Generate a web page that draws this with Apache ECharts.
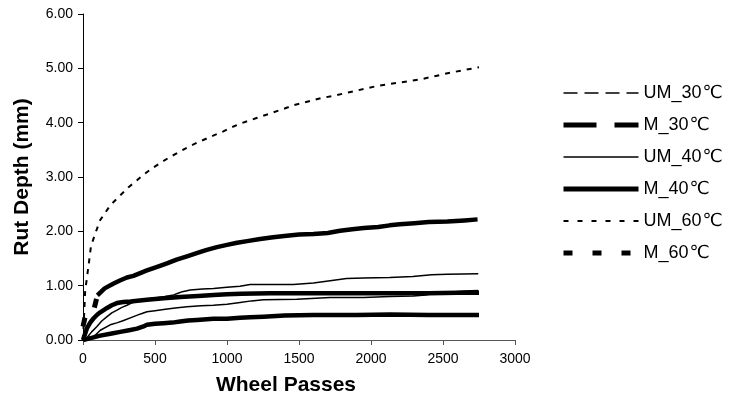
<!DOCTYPE html>
<html>
<head>
<meta charset="utf-8">
<script src="https://cdn.jsdelivr.net/npm/echarts@6/dist/echarts.min.js"></script>
<style>
  html, body { margin: 0; padding: 0; background: #fff; }
  #chart { width: 730px; height: 397px; }
</style>
</head>
<body>
<div id="chart"></div>
<script>
// Rut depth (mm) against wheel passes, [passes, depth] pairs per mix
const seriesNames = ['UM_30℃', 'M_30℃', 'UM_40℃', 'M_40℃', 'UM_60℃', 'M_60℃'];

const um30 = [[0,0],[50,0.03],[90,0.1],[120,0.18],[189,0.28],[240,0.32],[282,0.36],[351,0.43],[400,0.48],[444,0.52],[500,0.54],[559,0.56],[640,0.59],[722,0.61],[820,0.63],[906,0.64],[1000,0.66],[1091,0.69],[1170,0.72],[1253,0.74],[1485,0.75],[1716,0.78],[1947,0.78],[2132,0.8],[2294,0.81],[2380,0.83],[2433,0.86],[2550,0.88],[2650,0.9],[2745,0.91]];

const m30 = [[0,0],[60,0.04],[120,0.08],[200,0.12],[259,0.15],[320,0.18],[375,0.21],[420,0.25],[444,0.28],[500,0.3],[559,0.31],[620,0.32],[675,0.34],[730,0.36],[791,0.37],[906,0.39],[1000,0.39],[1091,0.41],[1160,0.42],[1253,0.43],[1400,0.45],[1600,0.46],[1900,0.46],[2132,0.47],[2400,0.46],[2750,0.46]];

const um40 = [[0,0],[30,0.05],[60,0.15],[97,0.25],[130,0.35],[167,0.43],[200,0.5],[236,0.55],[270,0.6],[305,0.64],[350,0.7],[400,0.74],[460,0.76],[513,0.78],[570,0.8],[630,0.83],[660,0.86],[690,0.89],[745,0.92],[830,0.94],[906,0.95],[1000,0.97],[1090,0.99],[1160,1.02],[1300,1.02],[1460,1.02],[1600,1.05],[1716,1.09],[1830,1.13],[1950,1.14],[2130,1.15],[2290,1.17],[2420,1.2],[2530,1.21],[2745,1.22]];

const m40 = [[0,0],[28,0.22],[50,0.32],[74,0.4],[100,0.47],[120,0.51],[167,0.59],[200,0.64],[236,0.68],[280,0.7],[330,0.71],[444,0.74],[560,0.77],[675,0.79],[800,0.81],[906,0.83],[1000,0.84],[1100,0.85],[1300,0.86],[1500,0.86],[1800,0.86],[2100,0.86],[2400,0.86],[2600,0.87],[2750,0.87]];

const um60 = [[0,0],[15,0.9],[40,1.4],[55,1.72],[85,1.96],[120,2.21],[190,2.48],[250,2.64],[316,2.81],[375,2.94],[420,3.04],[480,3.16],[550,3.28],[605,3.37],[675,3.47],[735,3.56],[790,3.63],[860,3.71],[920,3.78],[975,3.84],[1045,3.93],[1100,3.99],[1200,4.08],[1300,4.17],[1400,4.26],[1460,4.32],[1550,4.38],[1650,4.45],[1750,4.5],[1850,4.56],[1950,4.62],[2050,4.68],[2150,4.72],[2250,4.76],[2350,4.8],[2450,4.86],[2550,4.92],[2650,4.97],[2750,5.02]];

// first readings of M_60 (sparse, so the dash pattern shows) and the dense remainder
const m60Start = [[0,0.25],[25,0.55],[70,0.5],[100,0.82]];
const m60 = [[100,0.82],[150,0.95],[213,1.04],[260,1.1],[305,1.15],[350,1.18],[444,1.28],[520,1.35],[583,1.41],[650,1.48],[722,1.54],[800,1.61],[860,1.66],[930,1.71],[1000,1.75],[1070,1.79],[1140,1.82],[1230,1.86],[1320,1.89],[1415,1.92],[1500,1.94],[1600,1.95],[1700,1.97],[1785,2.01],[1870,2.04],[1950,2.06],[2050,2.08],[2130,2.11],[2200,2.13],[2300,2.15],[2400,2.17],[2530,2.18],[2650,2.2],[2740,2.22]];

const xTicks = { min: 0, max: 3000, step: 500 };
const yTicks = { min: 0, max: 6, step: 1 };

const FONT = '"Liberation Sans", Arial, "Noto Sans CJK SC", sans-serif';

// line styles as shown in the legend
const legendStyles = [
  { type: [14, 7], width: 1.5 },
  { type: [33, 18], width: 5 },
  { type: 'solid', width: 1.5 },
  { type: 'solid', width: 5 },
  { type: [5, 9], width: 2 },
  { type: [9, 20], width: 5 }
];

function lineSeries(name, data, lineStyle) {
  return {
    name: name,
    type: 'line',
    data: data,
    showSymbol: false,
    symbol: 'none',
    silent: true,
    animation: false,
    lineStyle: Object.assign({ color: '#000', cap: 'butt', join: 'round' }, lineStyle)
  };
}

const chart = echarts.init(document.getElementById('chart'), null, { renderer: 'canvas' });

chart.setOption({
  backgroundColor: '#fff',
  animation: false,
  color: ['#000'],
  grid: { left: 83, right: 215, top: 14, bottom: 57, outerBoundsMode: 'none', containLabel: false },
  legend: {
    orient: 'vertical',
    left: 556,
    top: 79,
    itemWidth: 75,
    itemHeight: 14,
    itemGap: 14,
    selectedMode: false,
    formatter: name => name.replace('℃', '{deg|℃}'),
    textStyle: {
      color: '#000', fontSize: 18, fontFamily: FONT,
      rich: { deg: { fontSize: 18, fontFamily: '"DejaVu Sans", sans-serif', padding: [0, 0, 0, 1] } }
    },
    data: seriesNames.map((n, i) => ({
      name: n,
      itemStyle: { color: 'rgba(0,0,0,0)', borderWidth: 0, opacity: 0 },
      lineStyle: Object.assign({ color: '#000', cap: 'butt' }, legendStyles[i])
    }))
  },
  xAxis: {
    type: 'value',
    min: xTicks.min,
    max: xTicks.max,
    interval: xTicks.step,
    name: 'Wheel Passes',
    nameLocation: 'middle',
    nameGap: 35,
    nameTextStyle: { color: '#000', fontSize: 21, fontWeight: 'bold', fontFamily: FONT, padding: [0, 26, 0, 0] },
    axisLine: { lineStyle: { color: '#555', width: 1 } },
    axisTick: { show: true, length: 5, lineStyle: { color: '#555' } },
    axisLabel: { color: '#000', fontSize: 14, fontFamily: FONT, margin: 12, formatter: v => String(v) },
    splitLine: { show: false }
  },
  yAxis: {
    type: 'value',
    min: yTicks.min,
    max: yTicks.max,
    interval: yTicks.step,
    name: 'Rut Depth (mm)',
    nameLocation: 'middle',
    nameGap: 50,
    nameTextStyle: { color: '#000', fontSize: 21, fontWeight: 'bold', fontFamily: FONT },
    axisLine: { show: true, lineStyle: { color: '#000', width: 1 } },
    axisTick: { show: true, length: 5, lineStyle: { color: '#000' } },
    axisLabel: { color: '#000', fontSize: 14, fontFamily: FONT, margin: 10, formatter: v => v.toFixed(2) },
    splitLine: { show: false }
  },
  series: [
    lineSeries(seriesNames[0], um30, { width: 1.5 }),
    lineSeries(seriesNames[1], m30, { width: 4.5 }),
    lineSeries(seriesNames[2], um40, { width: 1.5 }),
    lineSeries(seriesNames[3], m40, { width: 4.5 }),
    lineSeries(seriesNames[4], um60, { width: 2, type: [5, 6] }),
    lineSeries(seriesNames[5], m60Start, { width: 5, type: [9, 20] }),
    lineSeries(seriesNames[5], m60, { width: 4.5 })
  ]
});
</script>
</body>
</html>
